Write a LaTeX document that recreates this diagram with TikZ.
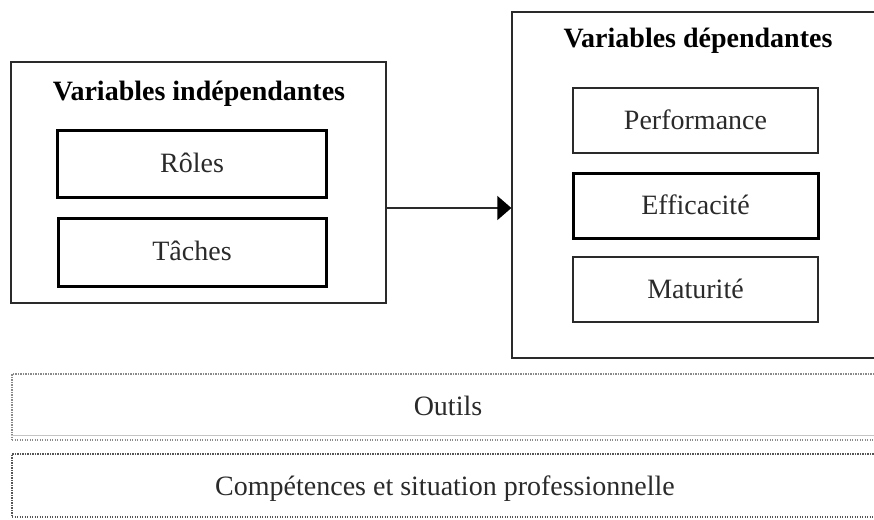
\documentclass[tikz,border=0pt]{standalone}
\usepackage{fontspec}
\setmainfont{Liberation Serif}
\usetikzlibrary{arrows.meta}
\begin{document}
\definecolor{ink}{HTML}{2A2A2A}
\definecolor{dotgray}{HTML}{8A8A8A}
\tikzset{
  frame/.style={draw=ink, line width=1.3pt, minimum width=#1, inner sep=0pt},
  boxtext/.style={inner sep=0pt, font=\fontsize{28}{30}\selectfont, text=ink,
    text height=19pt, text depth=2pt},
  thinbox/.style={boxtext, draw=ink, line width=1.4pt},
  thickbox/.style={boxtext, draw=black, line width=3pt},
  heading/.style={font=\fontsize{28}{32}\selectfont\bfseries, text=black, inner sep=0pt, anchor=base},
  band/.style={draw=dotgray, line width=1.2pt, dash pattern=on 1.2pt off 1.3pt, inner sep=0pt},
  bandtext/.style={font=\fontsize{28}{30}\selectfont, text=ink, inner sep=0pt, anchor=base},
}
\begin{tikzpicture}[x=1pt, y=-1pt]
\useasboundingbox (0,0) rectangle (874,519);
\clip (0,0) rectangle (874,519);

% independent variables
\node[frame=375pt, minimum height=241pt] (indep) at (198.5,182.5) {};
\node[heading] (indeptitle) at (199,100) {Variables indépendantes};
\node[thickbox, minimum width=269pt, minimum height=67pt] (roles) at (192,163.5) {Rôles};
\node[thickbox, minimum width=268pt, minimum height=68pt] (taches) at (192,252) {Tâches};

% dependent variables
\node[frame=372pt, minimum height=346pt] (dep) at (698,185) {};
\node[heading] (deptitle) at (698,47.5) {Variables dépendantes};
\node[thinbox, minimum width=245pt, minimum height=65pt] (perf) at (695.5,120.5) {Performance};
\node[thickbox, minimum width=245pt, minimum height=65pt] (effic) at (695.5,205.5) {Efficacité};
\node[thinbox, minimum width=245pt, minimum height=65pt] (matur) at (695.5,289.5) {Maturité};

% link between the two groups
\coordinate (linkstart) at (indep.east |- 0,208);
\coordinate (linkend) at (dep.west |- 0,208);
\draw[ink, line width=1.3pt, -{Triangle[length=14pt, width=24pt, color=black]}] (linkstart) -- (linkend);

% context bands
\node[band, minimum width=878pt, minimum height=66pt] (outils) at (451,407) {};
\draw[dotgray!50, line width=0.8pt] (outils.south west) ++(0,-5) -- ++(878,0);
\node[bandtext] (outilstext) at (448,415) {Outils};
\node[band, draw=ink!80, minimum width=878pt, minimum height=63pt] (comp) at (451,485.5) {};
\node[bandtext] (comptext) at (445,495) {Compétences et situation professionnelle};
\end{tikzpicture}
\end{document}
